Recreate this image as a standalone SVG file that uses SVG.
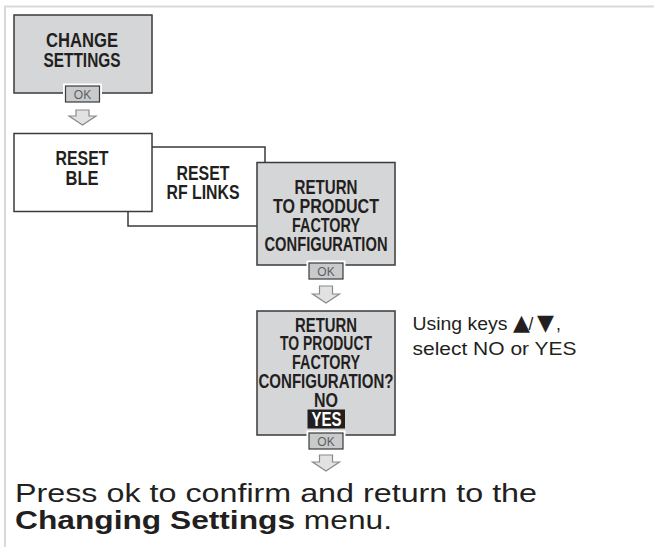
<svg xmlns="http://www.w3.org/2000/svg" width="654" height="547" viewBox="0 0 654 547">
<style>
  .frame { stroke: #d9d9d9; stroke-width: 2; fill: none; }
  .box { stroke: #3a3a3a; stroke-width: 1.5; }
  .gray { fill: #d5d6d8; }
  .white { fill: #ffffff; }
  .bt { font-family: "Liberation Sans Narrow", "Arial Narrow", "Liberation Sans", sans-serif; font-weight: bold; font-size: 20px; fill: #231f20; text-anchor: middle; }
  .halo { fill: #ffffff; stroke: #ffffff; stroke-width: 5; }
  .okbtn { fill: #c9cacc; stroke: #3a3a3a; stroke-width: 1.2; }
  .oktxt { font-family: "Liberation Sans", Arial, sans-serif; font-size: 12px; fill: #5f5f5f; text-anchor: middle; }
  .arrow { fill: #e2e2e2; stroke: #8a8a8a; stroke-width: 1.2; stroke-linejoin: miter; }
  .note { font-family: "Liberation Sans", Arial, sans-serif; font-size: 17.5px; fill: #231f20; }
  .sym { font-family: "DejaVu Sans", sans-serif; font-size: 22px; }
  .foot { font-family: "Liberation Sans", Arial, sans-serif; font-size: 25.5px; fill: #231f20; }
</style>
<defs>
  <g id="okbutton">
    <rect class="halo" x="0" y="0" width="34" height="16"/>
    <rect class="okbtn" x="0" y="0" width="34" height="16"/>
    <text class="oktxt" x="17" y="12.5">OK</text>
  </g>
</defs>

<path class="frame" d="M654,6.5 H5 V547"/>

<g id="node-change-settings">
  <rect class="box gray" x="14" y="15" width="138" height="78"/>
  <text class="bt" x="82" y="46.5" textLength="72" lengthAdjust="spacingAndGlyphs" style="font-size:21px">CHANGE</text>
  <text class="bt" x="82" y="66.5" textLength="77" lengthAdjust="spacingAndGlyphs" style="font-size:21px">SETTINGS</text>
  <use href="#okbutton" x="65.5" y="86"/>
</g>

<g id="node-reset-rf-links">
  <rect class="box white" x="128" y="147" width="137" height="79"/>
  <text class="bt" x="203" y="180" textLength="53" lengthAdjust="spacingAndGlyphs">RESET</text>
  <text class="bt" x="203" y="198.5" textLength="73" lengthAdjust="spacingAndGlyphs">RF LINKS</text>
</g>

<g id="node-reset-ble">
  <rect class="box white" x="14" y="133.5" width="138" height="78"/>
  <text class="bt" x="82" y="165" textLength="53" lengthAdjust="spacingAndGlyphs">RESET</text>
  <text class="bt" x="82" y="185" textLength="33" lengthAdjust="spacingAndGlyphs">BLE</text>
</g>

<g id="node-return-factory">
  <rect class="box gray" x="257" y="162.5" width="138" height="102.5"/>
  <text class="bt" x="326" y="194" textLength="63" lengthAdjust="spacingAndGlyphs">RETURN</text>
  <text class="bt" x="326" y="212.7" textLength="106" lengthAdjust="spacingAndGlyphs">TO PRODUCT</text>
  <text class="bt" x="326" y="231.7" textLength="68" lengthAdjust="spacingAndGlyphs">FACTORY</text>
  <text class="bt" x="326" y="250.7" textLength="123" lengthAdjust="spacingAndGlyphs">CONFIGURATION</text>
  <use href="#okbutton" x="309" y="263"/>
</g>

<g id="node-confirm">
  <rect class="box gray" x="257" y="311" width="138" height="124"/>
  <text class="bt" x="326" y="331.7" textLength="62" lengthAdjust="spacingAndGlyphs">RETURN</text>
  <text class="bt" x="326" y="350.3" textLength="92" lengthAdjust="spacingAndGlyphs">TO PRODUCT</text>
  <text class="bt" x="326" y="369" textLength="68" lengthAdjust="spacingAndGlyphs">FACTORY</text>
  <text class="bt" x="326" y="387.7" textLength="135" lengthAdjust="spacingAndGlyphs">CONFIGURATION?</text>
  <text class="bt" x="326" y="406.7" textLength="24" lengthAdjust="spacingAndGlyphs">NO</text>
  <rect x="307.5" y="409.5" width="37.5" height="19" fill="#231f20"/>
  <text class="bt" x="326.5" y="426" textLength="30" lengthAdjust="spacingAndGlyphs" style="fill:#ffffff">YES</text>
  <use href="#okbutton" x="309" y="433"/>
</g>

<g id="connectors">
  <path class="arrow" d="M76,110 H89 V116 H96 L82.5,125 L69,116 H76 Z"/>
  <path class="arrow" d="M319.5,286 H332.5 V294 H339.5 L326,303 L312.5,294 H319.5 Z"/>
  <path class="arrow" d="M319.5,455 H332.5 V462 H339.5 L326,471 L312.5,462 H319.5 Z"/>
</g>

<g id="note">
  <text class="note" x="412.5" y="330"><tspan textLength="95" lengthAdjust="spacingAndGlyphs">Using keys</tspan><tspan class="sym" x="513">▲</tspan><tspan x="528.5">/</tspan><tspan class="sym" x="537">▼</tspan><tspan x="556">,</tspan></text>
  <text class="note" x="412.5" y="355" textLength="164" lengthAdjust="spacingAndGlyphs">select NO or YES</text>
</g>

<g id="footer">
  <text class="foot" x="15" y="501.7" textLength="522" lengthAdjust="spacingAndGlyphs">Press ok to confirm and return to the</text>
  <text class="foot" x="15" y="529" textLength="377" lengthAdjust="spacingAndGlyphs"><tspan font-weight="bold">Changing Settings</tspan> menu.</text>
</g>
</svg>
